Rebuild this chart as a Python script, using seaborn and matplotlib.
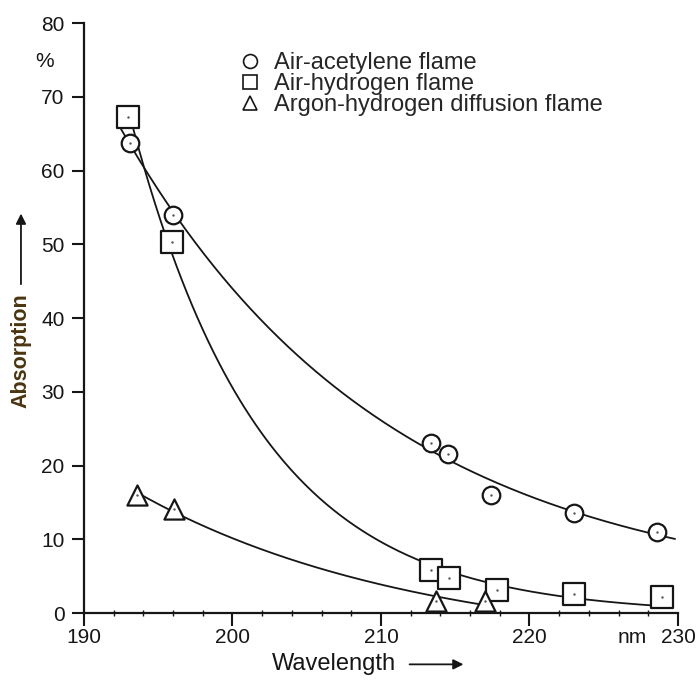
import numpy as np
import pandas as pd
import matplotlib
matplotlib.use("Agg")
import matplotlib.pyplot as plt
import seaborn as sns

# Measured absorption (%) against wavelength (nm) for three flame types
acetylene_nm = [193.1, 196.0, 213.4, 214.5, 217.4, 223.0, 228.6]
acetylene_abs = [63.8, 54.0, 23.1, 21.6, 16.0, 13.6, 11.0]

hydrogen_nm = [193.0, 195.9, 213.4, 214.6, 217.8, 223.0, 228.9]
hydrogen_abs = [67.3, 50.3, 5.8, 4.7, 3.1, 2.6, 2.2]

argon_nm = [193.6, 196.1, 213.7, 217.0]
argon_abs = [16.0, 14.1, 1.6, 1.6]

labels = ["Air-acetylene flame", "Air-hydrogen flame",
          "Argon-hydrogen diffusion flame"]
markers = ["o", "s", "^"]
# wavelength span covered by each drawn trend curve
curve_spans = [(192.5, 229.8), (193.0, 228.6), (193.6, 217.0)]

x_ticks = [190, 200, 210, 220, 230]
y_ticks = [0, 10, 20, 30, 40, 50, 60, 70, 80]

sns.set_style("ticks")
plt.rcParams["font.family"] = ["Liberation Sans", "DejaVu Sans"]

INK = "#161616"


def decay_fit(x, y):
    """Least-squares fit of y = a*exp(-b*(x-190)) + c, grid over b."""
    x = np.asarray(x, float)
    y = np.asarray(y, float)
    best = None
    for b in np.linspace(0.01, 0.4, 800):
        e = np.exp(-b * (x - 190.0))
        A = np.column_stack([e, np.ones_like(e)])
        coef, *_ = np.linalg.lstsq(A, y, rcond=None)
        sse = np.sum((A @ coef - y) ** 2)
        if best is None or sse < best[0]:
            best = (sse, b, coef)
    _, b, (a, c) = best
    return lambda t: a * np.exp(-b * (np.asarray(t) - 190.0)) + c


fig = plt.figure(figsize=(6.99, 6.80), dpi=100)
ax = fig.add_axes([0.120, 0.0985, 0.850, 0.8675])

series = [(acetylene_nm, acetylene_abs), (hydrogen_nm, hydrogen_abs),
          (argon_nm, argon_abs)]
sizes = [160, 240, 210]

for (xs, ys), lab, mk, span, sz in zip(series, labels, markers,
                                      curve_spans, sizes):
    f = decay_fit(xs, ys)
    t = np.linspace(span[0], span[1], 300)
    curve = pd.DataFrame({"nm": t, "abs": f(t)})
    sns.lineplot(data=curve, x="nm", y="abs", ax=ax, color=INK,
                 linewidth=1.3, legend=False, zorder=2)
    pts = pd.DataFrame({"nm": xs, "abs": ys})
    sns.scatterplot(data=pts, x="nm", y="abs", ax=ax, marker=mk, s=sz,
                    facecolor="white", edgecolor=INK, linewidth=1.6,
                    zorder=3, legend=False)
    # small centre dot inside each open symbol
    sns.scatterplot(data=pts, x="nm", y="abs", ax=ax, marker="o", s=3,
                    color="#555555", linewidth=0, zorder=4, legend=False)

ax.set_xlim(190, 230)
ax.set_ylim(0, 80)
ax.set_xticks(x_ticks)
ax.set_yticks(y_ticks)
ax.set_xticks(np.arange(192, 230, 2), minor=True)
ax.set_xlabel("")
ax.set_ylabel("")

for side in ("top", "right"):
    ax.spines[side].set_visible(False)
for side in ("left", "bottom"):
    ax.spines[side].set_linewidth(1.6)
    ax.spines[side].set_color(INK)

ax.tick_params(axis="both", which="major", length=9, width=1.5,
               color=INK, labelsize=15, labelcolor=INK)
ax.tick_params(axis="x", which="major", pad=2)
ax.tick_params(axis="y", which="major", pad=5)
ax.tick_params(axis="x", which="minor", direction="inout", length=5,
               width=1.0, color=INK)

# unit markers next to the axis ends
ax.text(226.9, -0.026, "nm", transform=ax.get_xaxis_transform(),
        ha="center", va="top", fontsize=15, color=INK)
ax.text(-0.066, 0.935, "%", transform=ax.transAxes, ha="center",
        va="center", fontsize=15, color=INK)

# legend with markers only
handles = [plt.Line2D([], [], linestyle="none", marker=m, markersize=10,
                      markerfacecolor="white", markeredgecolor=INK,
                      markeredgewidth=1.2) for m in markers]
ax.legend(handles, labels, loc="upper left", bbox_to_anchor=(0.243, 0.967),
          frameon=False, fontsize=17, handletextpad=0.55, labelspacing=-0.04,
          borderaxespad=0, handlelength=1.0)

# axis titles with arrows
fig.text(0.478, 0.023, "Wavelength", ha="center", va="center",
         fontsize=17, color=INK)
fig.patches.append(matplotlib.patches.FancyArrowPatch(
    (0.582, 0.023), (0.667, 0.023), transform=fig.transFigure,
    arrowstyle="-|>,head_length=6,head_width=3", color=INK, lw=1.3))

fig.text(0.030, 0.485, "Absorption", ha="center", va="center",
         rotation=90, fontsize=15.5, fontweight="bold", color="#4a3510")
fig.patches.append(matplotlib.patches.FancyArrowPatch(
    (0.030, 0.578), (0.030, 0.690), transform=fig.transFigure,
    arrowstyle="-|>,head_length=6,head_width=3", color=INK, lw=1.3))

fig.savefig("out.png", dpi=100, facecolor="white")
